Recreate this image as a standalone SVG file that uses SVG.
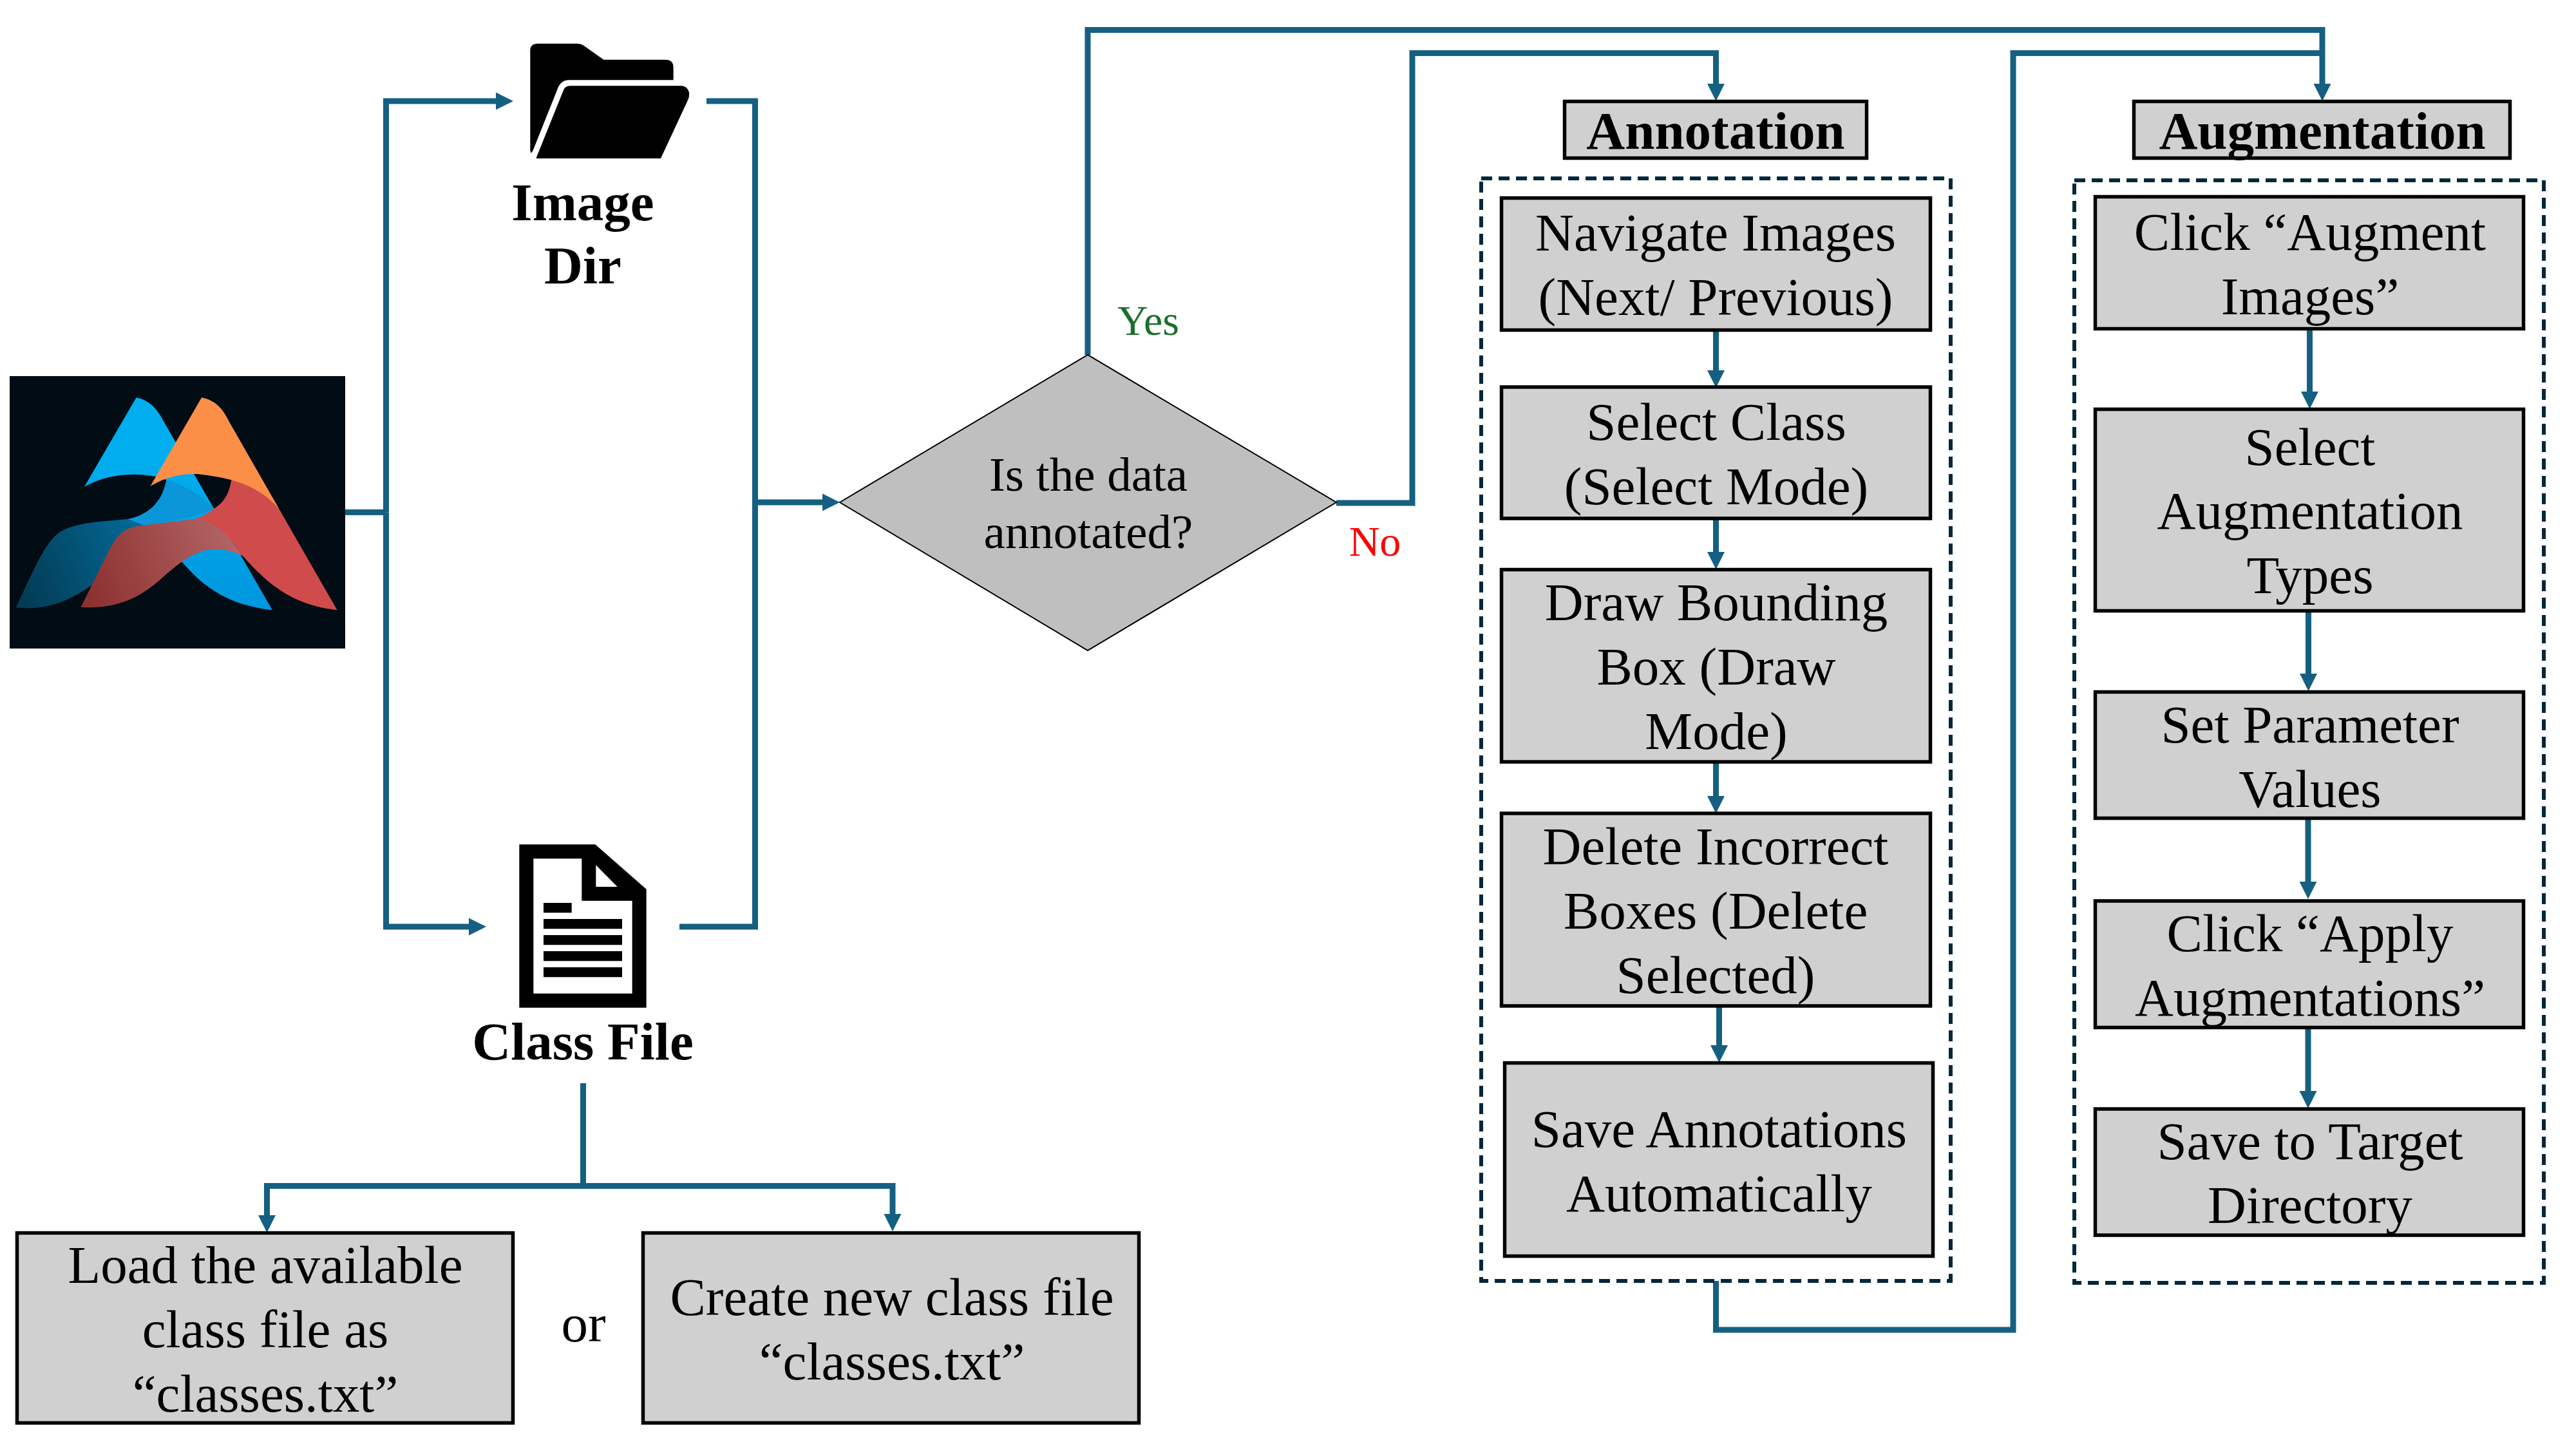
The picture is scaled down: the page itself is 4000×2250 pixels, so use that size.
<svg xmlns="http://www.w3.org/2000/svg" width="4000" height="2250" viewBox="0 0 4000 2250">
<style>
text{font-family:"Liberation Serif","Times New Roman",serif;font-size:83px;text-anchor:middle;fill:#000}
.b{font-weight:700}
.box{fill:#D0D0D0;stroke:#000;stroke-width:5.5}
.dash{fill:none;stroke:#05273A;stroke-width:6;stroke-dasharray:17 10}
.c{fill:none;stroke:#156082;stroke-width:9;stroke-linejoin:miter}
.a{marker-end:url(#arrow)}
.yes{font-size:66px;fill:#1B6E2B}
.no{font-size:66px;fill:#FF0000}
.q{font-size:75px}
</style>
<defs>
<marker id="arrow" markerUnits="userSpaceOnUse" markerWidth="28" markerHeight="28" refX="0" refY="14" orient="auto" viewBox="0 0 28 28"><path d="M0,0.5L27,14L0,27.5Z" fill="#156082"/></marker>
<linearGradient id="teal" gradientUnits="userSpaceOnUse" x1="65" y1="1100" x2="600" y2="900"><stop offset="0" stop-color="#033B54"/><stop offset="1" stop-color="#036A98"/></linearGradient>
<linearGradient id="wave" gradientUnits="userSpaceOnUse" x1="330" y1="1100" x2="980" y2="900"><stop offset="0" stop-color="#8C3030"/><stop offset="1" stop-color="#B56666"/></linearGradient>
<linearGradient id="blue" gradientUnits="userSpaceOnUse" x1="0" y1="500" x2="0" y2="1222"><stop offset="0" stop-color="#00AEEF"/><stop offset="1" stop-color="#0096DE"/></linearGradient>
</defs>
<rect width="4000" height="2250" fill="#fff"/>

<g id="connectors">
<path class="c" d="M536,795.5H599.5"/>
<path class="c a" d="M599.5,795.5V157H770"/>
<path class="c a" d="M599.5,795.5V1439H728"/>
<path class="c" d="M1097,157H1172.5V1439H1055"/>
<path class="c a" d="M1172.5,780H1277"/>
<path class="c a" d="M1689,551V46.5H3606V130"/>
<path class="c a" d="M2075,781H2193V82.5H2664.5V130"/>
<path class="c" d="M2664.5,1989V2065H3126V82.5H3606"/>
<path class="c a" d="M905.5,1682V1841.5H414.5V1887"/>
<path class="c a" d="M905.5,1841.5H1386V1885"/>
<path class="c a" d="M2664.5,515V575"/>
<path class="c a" d="M2664.5,807V857"/>
<path class="c a" d="M2664.5,1185V1236"/>
<path class="c a" d="M2669.5,1564V1623"/>
<path class="c a" d="M3586.5,512V608"/>
<path class="c a" d="M3584.5,951V1046"/>
<path class="c a" d="M3584,1273V1369"/>
<path class="c a" d="M3584,1598V1694"/>
</g>

<g id="logo">
<rect x="15" y="584" width="521" height="423" fill="#020C14"/>
<g transform="translate(0,540) scale(0.3827,0.3333)">
<path fill="url(#blue)" d="M553,232C610,245 640,290 665,345L1105,1222C930,1200 830,1120 740,1000L560,830L520,798C600,780 660,720 675,615C600,580 450,575 342,648Z"/>
<path fill="#0A96D8" d="M675,615C750,640 820,690 868,750C830,775 760,795 580,830L520,798C600,780 660,720 675,615Z"/>
<path fill="url(#teal)" d="M520,798C400,810 280,815 225,875C180,925 150,1000 65,1210C190,1225 280,1180 380,1100L600,835Z"/>
<path fill="#D04B4B" d="M940,610C1040,640 1100,690 1132,750L1368,1222C1200,1200 1100,1120 985,970C950,900 880,810 790,797C830,785 850,765 870,748C910,720 930,680 940,610Z"/>
<path fill="url(#wave)" d="M790,797C880,810 950,900 985,970C950,950 910,938 870,938C780,940 700,1030 640,1090C560,1170 460,1220 328,1208L440,950C470,880 500,840 560,830Z"/>
<path fill="#FC8F48" d="M818,232C875,245 905,285 930,345L1132,750C1060,660 980,610 800,588C730,585 670,605 610,645Z"/>
</g>
</g>

<g id="image-dir">
<g transform="translate(700,40) scale(0.33333)" fill="#000">
<path d="M370,115Q370,83 405,83H590Q605,83 620,93L712,158H1000Q1037,158 1037,195V253H550Q510,253 495,300L385,575Q375,598 372,590Q370,585 370,570Z"/>
<path d="M525,300Q533,280 555,280H1075Q1100,280 1110,310Q1112,330 1105,345L978,618H397Z"/>
</g>
<text class="b" x="905" y="342">Image</text>
<text class="b" x="905" y="440">Dir</text>
</g>

<g id="class-file">
<g transform="translate(700,1280) scale(0.33333)">
<path fill="#000" fill-rule="evenodd" d="M319,94H673L911,302V854H319ZM385,160V788H845V356H610V160ZM676,190V291H776Z"/>
<path fill="#000" d="M432,366H563V412H432ZM432,441H798V487H432ZM432,516H798V562H432ZM432,591H798V637H432ZM432,666H798V712H432Z"/>
</g>
<text class="b" x="905" y="1645">Class File</text>
</g>

<g id="load-class">
<rect class="box" x="26.5" y="1914.5" width="770" height="295"/>
<text x="412" y="1992">Load the available</text>
<text x="412" y="2092">class file as</text>
<text x="412" y="2192">“classes.txt”</text>
</g>
<g id="or"><text x="906" y="2083">or</text></g>
<g id="create-class">
<rect class="box" x="998.5" y="1914.5" width="770" height="295"/>
<text x="1385" y="2042">Create new class file</text>
<text x="1385" y="2142">“classes.txt”</text>
</g>

<g id="decision">
<polygon points="1304,780 1689,551 2075,780 1689,1010" fill="#BFBFBF" stroke="#000" stroke-width="2"/>
<text class="q" x="1690" y="762">Is the data</text>
<text class="q" x="1690" y="851">annotated?</text>
</g>
<g id="yes"><text class="yes" x="1783" y="520">Yes</text></g>
<g id="no"><text class="no" x="2135" y="863">No</text></g>

<g id="annotation-header">
<rect class="box" x="2429.5" y="157.5" width="469" height="88"/>
<text class="b" x="2664" y="231">Annotation</text>
</g>
<g id="annotation-panel"><rect class="dash" x="2300" y="277" width="729" height="1712"/></g>
<g id="navigate">
<rect class="box" x="2331.5" y="307.5" width="666" height="205"/>
<text x="2664" y="389">Navigate Images</text>
<text x="2664" y="489">(Next/ Previous)</text>
</g>
<g id="select-class">
<rect class="box" x="2331.5" y="601" width="666" height="204"/>
<text x="2665" y="683">Select Class</text>
<text x="2665" y="783">(Select Mode)</text>
</g>
<g id="draw-box">
<rect class="box" x="2331.5" y="884.5" width="666" height="298.5"/>
<text x="2665" y="963">Draw Bounding</text>
<text x="2665" y="1063">Box (Draw</text>
<text x="2665" y="1163">Mode)</text>
</g>
<g id="delete-box">
<rect class="box" x="2331.5" y="1263" width="666" height="299"/>
<text x="2664" y="1342">Delete Incorrect</text>
<text x="2664" y="1442">Boxes (Delete</text>
<text x="2664" y="1542">Selected)</text>
</g>
<g id="save-annotations">
<rect class="box" x="2336.5" y="1650.5" width="665" height="300"/>
<text x="2669.5" y="1781">Save Annotations</text>
<text x="2669.5" y="1881">Automatically</text>
</g>

<g id="augmentation-header">
<rect class="box" x="3313.5" y="157.5" width="584" height="88"/>
<text class="b" x="3606" y="231">Augmentation</text>
</g>
<g id="augmentation-panel"><rect class="dash" x="3221" y="280" width="729" height="1712"/></g>
<g id="click-augment">
<rect class="box" x="3253.5" y="305.5" width="665" height="205"/>
<text x="3587" y="388">Click “Augment</text>
<text x="3587" y="488">Images”</text>
</g>
<g id="select-aug">
<rect class="box" x="3253.5" y="635.5" width="665" height="313"/>
<text x="3587" y="722">Select</text>
<text x="3587" y="821">Augmentation</text>
<text x="3587" y="921">Types</text>
</g>
<g id="set-params">
<rect class="box" x="3253.5" y="1074.5" width="665" height="196"/>
<text x="3587" y="1153">Set Parameter</text>
<text x="3587" y="1253">Values</text>
</g>
<g id="click-apply">
<rect class="box" x="3253.5" y="1399" width="665" height="196.5"/>
<text x="3587" y="1477">Click “Apply</text>
<text x="3587" y="1577">Augmentations”</text>
</g>
<g id="save-target">
<rect class="box" x="3253.5" y="1722" width="665" height="196"/>
<text x="3587" y="1800">Save to Target</text>
<text x="3587" y="1899">Directory</text>
</g>
</svg>
